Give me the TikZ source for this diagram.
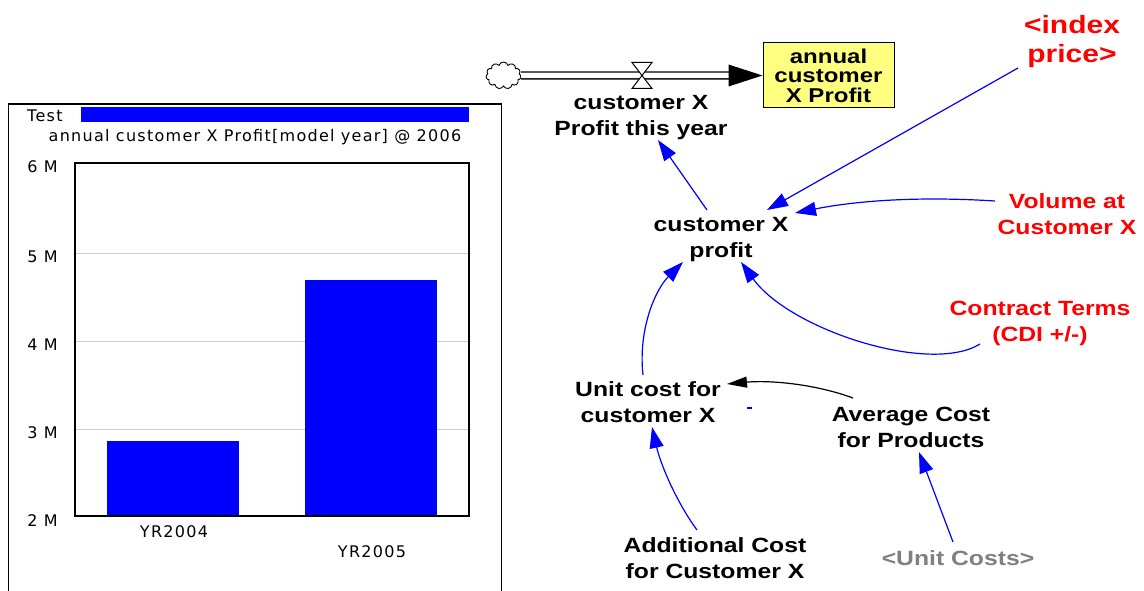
\documentclass[tikz,border=0pt]{standalone}
\usepackage{fontspec}
\setmainfont{DejaVu Sans}
\newfontfamily\labfont[FakeStretch=1.2]{Liberation Sans}
\newfontfamily\chartfont[LetterSpace=8]{DejaVu Sans}
\usetikzlibrary{arrows.meta,shapes.symbols,calc}
\definecolor{vblue}{RGB}{0,0,255}
\definecolor{vred}{RGB}{255,0,0}
\definecolor{vgray}{RGB}{128,128,128}
\definecolor{gridgray}{RGB}{205,205,205}
\definecolor{boxyellow}{RGB}{255,255,128}
\begin{document}
\begin{tikzpicture}[x=1pt,y=-1pt,
  lab/.style={align=center,inner sep=0pt,font=\labfont\bfseries\fontsize{20.6}{26}\selectfont},
  redlab/.style={lab,text=vred},
  chart/.style={inner sep=0pt,font=\chartfont\fontsize{16}{19}\selectfont},
  link/.style={vblue,line width=1.2pt,-{Triangle[length=21pt,width=14pt]}},
  blink/.style={black,line width=1.2pt,-{Triangle[length=20pt,width=11pt]}}]
\useasboundingbox (0,0) rectangle (1144,591);
\fill[white] (0,0) rectangle (1144,591);

% ---- chart ----
\draw[line width=1.2pt] (8.5,591) -- (8.5,104) -- (501.5,104) -- (501.5,591);
\node[chart,anchor=west] (test) at (27,116) {Test};
\fill[vblue] (81,107) rectangle (469,122);
\node[chart] (ctitle) at (255,137) {annual customer X Profit[model year] @ 2006};
\foreach \yy in {253,341,429} \draw[gridgray,line width=1pt] (75,\yy) -- (471,\yy);
\fill[vblue] (107,441) rectangle (239,516);
\fill[vblue] (305,280) rectangle (437,516);
\draw[line width=1.2pt] (75,163) rectangle (469,516);
\node[chart,anchor=east] (y6) at (58,167) {6 M};
\node[chart,anchor=east] (y5) at (58,257) {5 M};
\node[chart,anchor=east] (y4) at (58,345) {4 M};
\node[chart,anchor=east] (y3) at (58,433) {3 M};
\node[chart,anchor=east] (y2) at (58,521) {2 M};
\node[chart] (x1) at (174,532) {YR2004};
\node[chart] (x2) at (372,552) {YR2005};

% ---- stock and flow ----
\node[draw,fill=boxyellow,line width=1pt,minimum width=131pt,minimum height=65pt,inner sep=0pt,align=center,
      font=\labfont\bfseries\fontsize{20}{19.5}\selectfont] (stock) at (828.5,75.5) {annual\\customer\\X Profit};
\node[cloud,cloud puffs=11,draw,line width=0.9pt,minimum width=35pt,minimum height=27pt,inner sep=0pt] (cloud) at (503.5,75.5) {};
\draw[line width=1.3pt,double=white,double distance=5.5pt] (cloud.east) -- ($(stock.west)+(-33,0)$);
\fill[black] ($(stock.west)+(-34,-11)$) -- (stock.west) -- ($(stock.west)+(-34,11)$) -- cycle;
\coordinate (valve) at (642,75.5);
\draw[fill=white,line width=1pt] ($(valve)+(-10,-13)$) -- ($(valve)+(10,-13)$) -- ($(valve)+(-10,13)$) -- ($(valve)+(10,13)$) -- cycle;

% ---- variables ----
\node[lab] (pty) at (641,118) {customer X\\Profit this year};
\node[lab] (profit) at (721,240) {customer X\\profit};
\node[redlab,font=\labfont\bfseries\fontsize{25}{29}\selectfont] (index) at (1072,42) {<index\\price>};
\node[redlab] (volume) at (1067,214) {Volume at\\Customer X};
\node[redlab] (contract) at (1040,323) {Contract Terms\\(CDI +/-)};
\node[lab] (unitcost) at (648,402) {Unit cost for\\customer X};
\node[lab] (avgcost) at (911,427) {Average Cost\\for Products};
\node[lab] (addcost) at (715,558) {Additional Cost\\for Customer X};
\node[lab,text=vgray] (unitcosts) at (958,558) {<Unit Costs>};

% ---- links ----
\draw[link] ([shift={(-14,-30)}]profit.center) -- ([shift={(17,22)}]pty.center);
\draw[link] ([shift={(-54,26)}]index.center) -- ([shift={(46,-30)}]profit.center);
\draw[link] ([shift={(-72,-13)}]volume.center) .. controls (900,195) and (840,204) .. ([shift={(74,-27)}]profit.center);
\draw[link] ([shift={(-60,21)}]contract.center) .. controls (930,375) and (790,330) .. ([shift={(20,22)}]profit.center);
\draw[link] ([shift={(-5,-27)}]unitcost.center) .. controls (638,330) and (655,290) .. ([shift={(-38,22)}]profit.center);
\draw[link] ([shift={(-18,-28)}]addcost.center) .. controls (675,500) and (660,462) .. ([shift={(4,25)}]unitcost.center);
\draw[link] ([shift={(-5,-16)}]unitcosts.center) -- ([shift={(8,25)}]avgcost.center);
\draw[blink] ([shift={(-58,-29)}]avgcost.center) .. controls (815,384) and (770,380) .. ([shift={(79,-18)}]unitcost.center);
\draw[vblue,line width=1.2pt] ([shift={(99,6)}]unitcost.center) -- ([shift={(104,6)}]unitcost.center);
\end{tikzpicture}
\end{document}
